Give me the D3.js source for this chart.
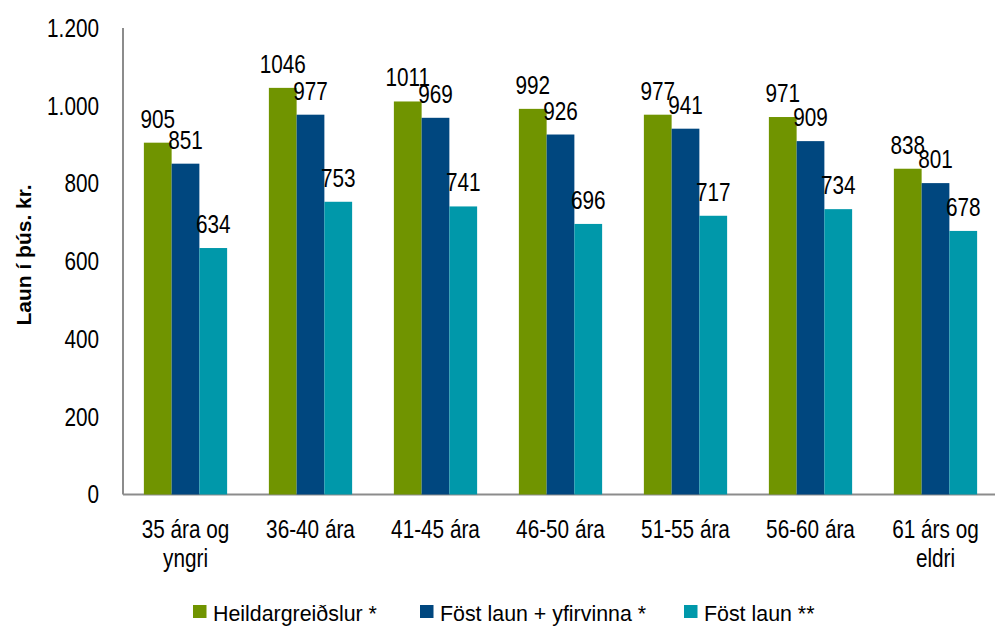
<!DOCTYPE html>
<html>
<head>
<meta charset="utf-8">
<script src="https://cdn.jsdelivr.net/npm/d3@7"></script>
<style>
  body { margin: 0; background: #fff; }
  svg text { font-family: "Liberation Sans", Arial, sans-serif; fill: #000; }
</style>
</head>
<body>
<svg id="chart" width="995" height="626"></svg>
<script>
// flokkar (aldurshópar), tvær línur á hverjum merkimiða
var categories = [["35 ára og", "yngri"], ["36-40 ára"], ["41-45 ára"], ["46-50 ára"], ["51-55 ára"], ["56-60 ára"], ["61 árs og", "eldri"]];
var seriesNames = ["Heildargreiðslur *", "Föst laun + yfirvinna *", "Föst laun **"];
var heildar = [905, 1046, 1011, 992, 977, 971, 838];
var fostYfir = [851, 977, 969, 926, 941, 909, 801];
var fost = [634, 753, 741, 696, 717, 734, 678];
var yTicks = [0, 200, 400, 600, 800, 1000, 1200];
var colors = ["#709400", "#00477f", "#0098aa"];

var narrow = 0.83; // letrið er mjórra en Arial (Arial Narrow)

var svg = d3.select("#chart");
var margin = {top: 28, right: -3, bottom: 131.5, left: 123};
var width = 995 - margin.left - margin.right,
    height = 626 - margin.top - margin.bottom;

var g = svg.append("g")
  .attr("transform", "translate(" + margin.left + "," + margin.top + ")");

var idx = d3.range(categories.length);
var x0 = d3.scaleBand().domain(idx).range([0, width]).paddingInner(0.334).paddingOuter(0.167);
var x1 = d3.scaleBand().domain([0, 1, 2]).range([0, x0.bandwidth()]);
var y = d3.scaleLinear().domain([0, 1200]).range([height, 0]);

var series = [heildar, fostYfir, fost];

function place(x, yy, k) {
  return "translate(" + x + "," + yy + ") scale(" + (k || narrow) + ",1)";
}

// ásar
g.append("line")
  .attr("x1", 0).attr("x2", 0).attr("y1", 0).attr("y2", height)
  .attr("stroke", "#8c8c8c").attr("stroke-width", 2);
g.append("line")
  .attr("x1", 0).attr("x2", width).attr("y1", height).attr("y2", height)
  .attr("stroke", "#8c8c8c").attr("stroke-width", 2);

var fmt = function(d) { return d3.format(",")(d).replace(/,/g, "."); };
g.selectAll(".ytick").data(yTicks).enter()
  .append("text")
  .attr("class", "ytick")
  .attr("transform", function(d) { return place(-24, y(d)); })
  .attr("dy", "0.35em")
  .attr("text-anchor", "end")
  .style("font-size", "25px")
  .text(fmt);

// súlur
series.forEach(function(vals, s) {
  var grp = g.append("g");
  grp.selectAll("rect").data(vals).enter()
    .append("rect")
    .attr("x", function(d, i) { return x0(i) + x1(s); })
    .attr("y", function(d) { return y(d); })
    .attr("width", x1.bandwidth())
    .attr("height", function(d) { return height - y(d); })
    .attr("fill", colors[s]);
  grp.selectAll("text").data(vals).enter()
    .append("text")
    .attr("transform", function(d, i) { return place(x0(i) + x1(s) + x1.bandwidth() / 2, y(d) - 15); })
    .attr("text-anchor", "middle")
    .style("font-size", "25px")
    .text(function(d) { return d; });
});

// x merkimiðar
var xl = g.selectAll(".xlab").data(categories).enter()
  .append("text")
  .attr("class", "xlab")
  .attr("text-anchor", "middle")
  .attr("transform", function(d, i) { return place(x0(i) + x0.bandwidth() / 2, height + 43); })
  .style("font-size", "25px");
xl.selectAll("tspan").data(function(d) { return d; }).enter()
  .append("tspan")
  .attr("x", 0)
  .attr("dy", function(d, i) { return i === 0 ? 0 : 30; })
  .text(function(d) { return d; });

// y ás titill
svg.append("text")
  .attr("transform", "translate(31,255) rotate(-90)")
  .attr("text-anchor", "middle")
  .style("font-size", "21px")
  .style("font-weight", "bold")
  .text("Laun í þús. kr.");

// skýringar
var legendX = [193, 420, 684];
var leg = svg.selectAll(".legend").data(seriesNames).enter()
  .append("g")
  .attr("class", "legend")
  .attr("transform", function(d, i) { return "translate(" + legendX[i] + ",605)"; });
leg.append("rect")
  .attr("width", 13.5).attr("height", 13)
  .attr("fill", function(d, i) { return colors[i]; });
leg.append("text")
  .attr("transform", place(20, 15.5, 0.93))
  .style("font-size", "23px")
  .text(function(d) { return d; });
</script>
</body>
</html>
